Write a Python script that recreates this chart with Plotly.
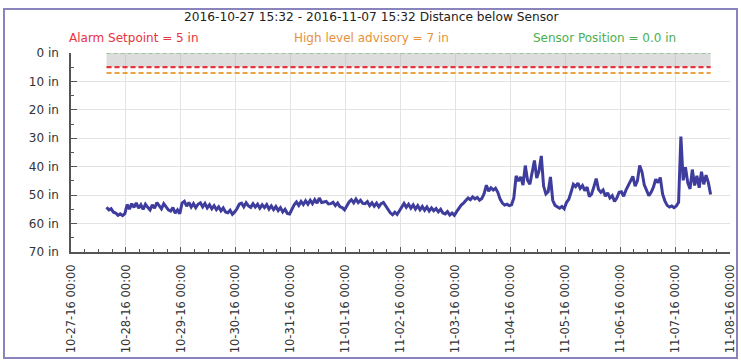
import plotly.graph_objects as go
import pandas as pd

# ---------------- data ----------------
series_start = "2016-10-27 15:32"
series_end = "2016-11-07 15:32"
title_text = "2016-10-27 15:32 - 2016-11-07 15:32 Distance below Sensor"

alarm_setpoint = 5
high_level_advisory = 7
sensor_position = 0.0

y_tick_values = [0, 10, 20, 30, 40, 50, 60, 70]
y_tick_labels = ["0 in", "10 in", "20 in", "30 in", "40 in", "50 in", "60 in", "70 in"]
x_axis_start = "2016-10-27 00:00"
x_axis_end = "2016-11-08 00:00"

# hourly readings (inches below sensor) starting at series_start
distance_in = [
    # 10-27 evening
    54.3, 55.2, 54.8, 56.0, 56.3, 57.1, 56.6, 57.2, 56.5,
    # 10-28
    53.3, 54.9, 53.0, 54.3, 52.7, 54.6, 53.4, 55.0, 53.2, 54.3, 55.2, 53.4,
    54.6, 52.6, 53.9, 54.8, 53.0, 54.3, 55.2, 55.6, 54.4, 56.3, 55.2, 56.5,
    # 10-29
    52.8, 52.2, 53.9, 52.6, 54.2, 53.0, 54.4, 53.2, 52.7, 54.1, 52.9, 54.5,
    53.4, 54.8, 53.7, 55.1, 54.1, 55.5, 54.5, 55.9, 56.2, 55.3, 56.7, 55.9,
    # 10-30
    54.8, 53.2, 52.8, 54.1, 52.7, 53.8, 54.3, 53.0, 54.2, 53.2, 54.6, 53.4,
    54.4, 53.3, 54.9, 53.8, 55.1, 54.0, 55.4, 54.4, 55.9, 55.0, 56.4, 56.6,
    # 10-31
    55.0, 53.4, 52.4, 53.6, 52.2, 53.3, 52.0, 53.2, 51.8, 53.0, 51.6, 52.8,
    51.0, 52.6, 52.4, 52.2, 53.1, 53.0, 52.5, 53.7, 52.8, 54.1, 54.4, 55.2,
    # 11-01
    53.8, 52.4, 51.6, 52.7, 51.4, 52.6, 51.8, 52.9, 53.0, 52.3, 53.7, 52.7,
    53.9, 52.8, 54.1, 53.0, 52.6, 53.8, 54.6, 56.2, 56.9, 56.0, 56.8, 55.4,
    # 11-02
    54.0, 52.9, 54.3, 53.2, 54.6, 53.4, 54.9, 53.7, 55.1, 54.0, 55.3, 54.2,
    55.6, 54.5, 55.5, 54.7, 55.9, 55.0, 56.3, 56.6, 55.8, 57.0, 56.3, 57.1,
    # 11-03
    55.8, 54.6, 53.5, 52.8, 51.9, 51.0, 51.6, 50.6, 51.3, 50.8, 51.8, 51.2,
    49.5, 46.5, 48.6, 47.4, 48.2, 47.6, 49.0, 51.4, 52.8, 53.5, 53.2, 53.7,
    # 11-04
    53.4, 51.0, 43.2, 45.0, 43.6, 46.5, 39.6, 44.8, 46.2, 42.0, 37.8, 44.0,
    41.5, 36.2, 46.8, 49.6, 48.8, 43.6, 51.8, 53.6, 54.2, 54.6, 54.0, 54.8,
    # 11-05
    52.6, 51.5, 49.0, 46.2, 47.0, 45.8, 47.6, 46.6, 48.4, 47.2, 50.5, 49.6,
    47.0, 44.2, 48.0, 49.0, 48.2, 50.4, 49.2, 51.0, 50.2, 52.2, 51.0, 49.0,
    # 11-06
    48.8, 50.4, 48.2, 46.6, 44.6, 43.4, 46.8, 45.0, 39.6, 41.8, 46.4, 48.6,
    50.2, 49.0, 47.2, 44.4, 45.6, 43.8, 49.6, 52.0, 53.6, 54.2, 53.8, 54.4,
    # 11-07
    53.8, 52.5, 29.4, 44.8, 40.2, 45.6, 47.8, 41.0, 46.6, 43.2, 47.4, 41.8,
    46.2, 43.0, 45.6, 49.8,
]

times = pd.date_range(series_start, periods=len(distance_in), freq="h")

# ---------------- layout geometry ----------------
W, H = 741, 364
L, R, T, B = 71, 11, 53, 112
PW, PH = W - L - R, H - T - B


def px_x(px):
    return (px - L) / PW


def px_y(py):
    return (H - B - py) / PH


FONT = "DejaVu Sans"
AXIS_COLOR = "#555555"
GRID_COLOR = "#e3e3e3"

fig = go.Figure()

band_x = [series_start, series_end]

# gray band from sensor position to alarm setpoint
fig.add_trace(go.Scatter(
    x=band_x, y=[sensor_position, sensor_position], mode="lines",
    line=dict(width=0), showlegend=False, hoverinfo="skip"))
fig.add_trace(go.Scatter(
    x=band_x, y=[alarm_setpoint, alarm_setpoint], mode="lines",
    line=dict(width=0), fill="tonexty", fillcolor="rgba(175,175,175,0.42)",
    showlegend=False, hoverinfo="skip"))

# threshold lines
fig.add_trace(go.Scatter(
    x=band_x, y=[sensor_position, sensor_position], mode="lines",
    line=dict(color="#7fbf7f", width=1.4, dash="4px,3px"), showlegend=False,
    cliponaxis=False))
fig.add_trace(go.Scatter(
    x=band_x, y=[alarm_setpoint, alarm_setpoint], mode="lines",
    line=dict(color="#e8323c", width=2.2, dash="5px,3px"), showlegend=False))
fig.add_trace(go.Scatter(
    x=band_x, y=[high_level_advisory, high_level_advisory], mode="lines",
    line=dict(color="#f0a040", width=2.0, dash="5px,3px"), showlegend=False))

# sensor distance
fig.add_trace(go.Scatter(
    x=times, y=distance_in, mode="lines",
    line=dict(color="#3e3c9c", width=3.0), showlegend=False))

fig.update_layout(
    width=W, height=H,
    margin=dict(l=L, r=R, t=T, b=B, autoexpand=False),
    paper_bgcolor="white", plot_bgcolor="white",
    font=dict(family=FONT, color="#333333"),
    showlegend=False,
)

fig.update_xaxes(
    type="date",
    range=[x_axis_start, x_axis_end],
    tick0=x_axis_start, dtick=86400000,
    tickformat="%m-%d-%y %H:%M",
    tickangle=-90,
    tickfont=dict(family=FONT, size=11.5, color="#333333"),
    ticks="inside", ticklen=5, tickwidth=1, tickcolor=AXIS_COLOR,
    showline=True, linecolor=AXIS_COLOR, linewidth=1.5,
    showgrid=True, gridcolor=GRID_COLOR, gridwidth=1,
    zeroline=False, automargin=False,
    minor=dict(dtick=6 * 3600 * 1000, ticks="inside", ticklen=3,
               tickcolor=AXIS_COLOR, showgrid=False),
    ticklabelstandoff=6,
)

fig.update_yaxes(
    range=[70, 0],
    tickvals=y_tick_values, ticktext=y_tick_labels,
    tickfont=dict(family=FONT, size=12, color="#333333"),
    ticks="inside", ticklen=6, tickwidth=1, tickcolor=AXIS_COLOR,
    showline=True, linecolor=AXIS_COLOR, linewidth=1.5,
    showgrid=True, gridcolor=GRID_COLOR, gridwidth=1,
    zeroline=False, automargin=False,
    minor=dict(dtick=5, ticks="inside", ticklen=3, tickcolor=AXIS_COLOR, showgrid=False),
    ticklabelstandoff=8,
)

# title and legend labels
ann_common = dict(xref="paper", yref="paper", showarrow=False,
                  xanchor="center", yanchor="middle")
fig.add_annotation(text=title_text, x=px_x(372), y=px_y(17),
                   font=dict(family=FONT, size=12.2, color="#222222"), **ann_common)
fig.add_annotation(text=f"Alarm Setpoint = {alarm_setpoint} in",
                   x=px_x(134), y=px_y(38),
                   font=dict(family=FONT, size=12, color="#e8323c"), **ann_common)
fig.add_annotation(text=f"High level advisory = {high_level_advisory} in",
                   x=px_x(371), y=px_y(38),
                   font=dict(family=FONT, size=12, color="#e8903a"), **ann_common)
fig.add_annotation(text=f"Sensor Position = {sensor_position:.1f} in",
                   x=px_x(604), y=px_y(38),
                   font=dict(family=FONT, size=12, color="#4caf50"), **ann_common)

# outer frame
fig.add_shape(type="rect", xref="paper", yref="paper",
              x0=px_x(4), x1=px_x(737), y0=px_y(358), y1=px_y(9),
              line=dict(color="#8a84bc", width=2), fillcolor="rgba(0,0,0,0)", layer="above")

fig.write_html("out.html", config={"displayModeBar": False},
               post_script="document.body.style.margin='0px';")
